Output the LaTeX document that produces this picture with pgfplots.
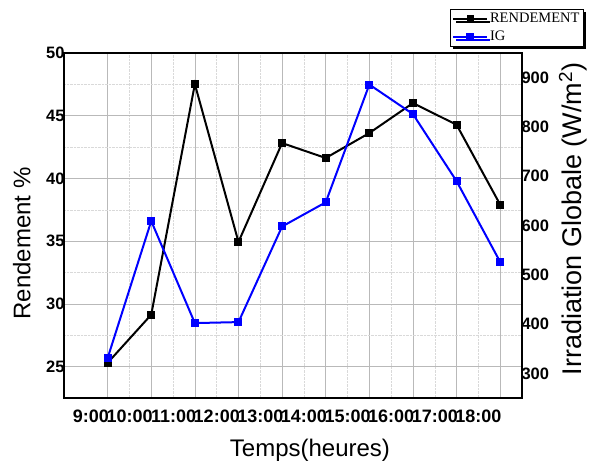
\documentclass[border=0pt]{standalone}
\usepackage{pgfplots}
\pgfplotsset{compat=1.18}
\usepackage{fontspec}
\setmainfont{Liberation Sans}
\newfontfamily\legfont{Liberation Serif}
\usetikzlibrary{shadows}
\begin{document}
\begin{tikzpicture}[x=1pt,y=1pt]
\useasboundingbox (0,0) rectangle (591,465);
\begin{axis}[
  at={(64pt,67pt)}, anchor=south west, scale only axis,
  width=458pt, height=345pt,
  xmin=-1, xmax=9.5, ymin=22.5, ymax=50,
  xtick={0,...,9},
  xticklabels={9:00,10:00,11:00,12:00,13:00,14:00,15:00,16:00,17:00,18:00},
  minor x tick num=1,
  ytick={25,30,...,50}, minor y tick num=1,
  grid=both,
  major grid style={gray!55, line width=0.7pt},
  minor grid style={gray!30, densely dotted, line width=0.5pt},
  axis line style={line width=1.5pt},
  major tick length=0pt, minor tick length=0pt,
  xtick pos=bottom, ytick pos=left,
  xticklabel style={font=\fontsize{18}{18}\selectfont\bfseries, anchor=north east, inner sep=0pt, xshift=1.5pt, yshift=-12pt},
  yticklabel style={font=\fontsize{16.5}{16.5}\selectfont\bfseries, xshift=4pt},
  /pgf/number format/assume math mode=true,
  xlabel={Temps(heures)},
  ylabel={Rendement \%},
  label style={font=\fontsize{24}{24}\selectfont},
  xlabel style={at={(axis description cs:0.537,-0.151)}, anchor=center},
  ylabel style={at={(axis description cs:-0.092,0.448)}, anchor=center},
]
\addplot[black, line width=2pt, mark=square*, mark size=3pt, mark options={solid}]
 coordinates {(0,25.30)(1,29.14)(2,47.52)(3,34.94)(4,42.82)(5,41.63)(6,43.62)(7,46.01)(8,44.28)(9,37.91)};
\end{axis}
\begin{axis}[
  at={(64pt,67pt)}, anchor=south west, scale only axis,
  width=458pt, height=345pt,
  xmin=-1, xmax=9.5, ymin=250, ymax=950,
  axis x line=none, axis y line*=right,
  ytick={300,400,...,900},
  axis line style={line width=1.5pt},
  major tick length=0pt,
  yticklabel style={font=\fontsize{16.5}{16.5}\selectfont\bfseries, xshift=-4pt},
  /pgf/number format/assume math mode=true,
  ylabel={Irradiation Globale (W/m\textsuperscript{2})},
  ylabel style={font=\fontsize{27}{27}\selectfont, at={(axis description cs:1.111,0.519)}, anchor=center},
  legend style={at={(axis description cs:1.135,1.128)}, anchor=north east,
    font=\legfont\fontsize{14.5}{14.5}\selectfont, draw=black, line width=0.7pt,
    fill=white, drop shadow={shadow xshift=3pt, shadow yshift=-3pt, fill=black, opacity=1},
    inner xsep=2pt, inner ysep=2pt, row sep=3pt, legend cell align=left},
  legend image code/.code={\draw[mark repeat=2,mark phase=2,#1] plot coordinates {(0pt,0pt) (17pt,0pt) (34pt,0pt)};},
]
\addlegendimage{black, line width=2pt, mark=square*, mark size=2.5pt}
\addlegendentry{RENDEMENT}
\addplot[blue, line width=2pt, mark=square*, mark size=3pt]
 coordinates {(0,331)(1,609)(2,402)(3,404)(4,598)(5,647)(6,886)(7,826)(8,690)(9,526)};
\addlegendentry{IG}
\end{axis}
\end{tikzpicture}
\end{document}
